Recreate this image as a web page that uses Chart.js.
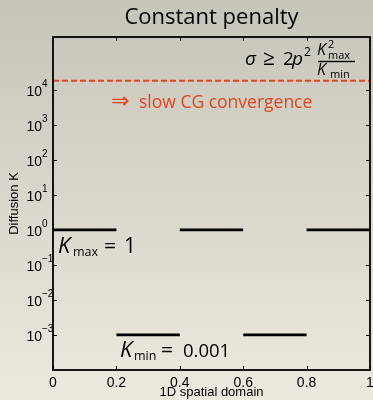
<!DOCTYPE html>
<html>
<head>
<meta charset="utf-8">
<script src="https://cdn.jsdelivr.net/npm/chart.js@4.4.1/dist/chart.umd.min.js"></script>
<style>
html, body { margin: 0; padding: 0; background: #dcd9ce; }
canvas { display: block; }
</style>
</head>
<body>
<canvas id="penaltyChart" width="373" height="400"></canvas>
<script>
// piecewise constant diffusion K over the 1D domain
const segStart = [0, 0.2, 0.4, 0.6, 0.8];
const segEnd = [0.2, 0.4, 0.6, 0.8, 1];
const diffusionK = [1, 0.001, 1, 0.001, 1];
// penalty bound sigma >= 2 p^2 Kmax^2 / Kmin (dashed line)
const penaltyBound = 18000;
const xTickValues = [0, 0.2, 0.4, 0.6, 0.8, 1];
const yTickExponents = [-3, -2, -1, 0, 1, 2, 3, 4];
const yMin = 1e-4;
const yMax = Math.pow(10, 5.5);

const RED = '#df461f';
const SANS = '"Open Sans", "DejaVu Sans", sans-serif';
const AX = '"Liberation Sans", Arial, sans-serif';

// build step segments, broken by null so they are not joined
const stepPoints = [];
for (let i = 0; i < diffusionK.length; i++) {
    stepPoints.push({ x: segStart[i], y: diffusionK[i] });
    stepPoints.push({ x: segEnd[i], y: diffusionK[i] });
    stepPoints.push({ x: segEnd[i], y: null });
}
const boundPoints = [{ x: 0, y: penaltyBound }, { x: 1, y: penaltyBound }];

function drawPieces(ctx, pieces) {
    pieces.forEach(p => {
        ctx.font = (p.it ? 'italic ' : '') + p.size + 'px ' + (p.family || SANS);
        ctx.fillText(p.t, p.x, p.y);
    });
}

const paperPlugin = {
    id: 'paper',
    beforeDraw(chart) {
        const { ctx, width, height } = chart;
        const g = ctx.createLinearGradient(0, 0, 0, height);
        g.addColorStop(0, '#c7c4b9');
        g.addColorStop(1, '#ede9de');
        ctx.save();
        ctx.fillStyle = g;
        ctx.fillRect(0, 0, width, height);
        ctx.restore();
    },
    afterDraw(chart) {
        const { ctx, chartArea: a } = chart;
        const x = chart.scales.x, y = chart.scales.y;
        ctx.save();
        ctx.strokeStyle = '#000';
        ctx.lineWidth = 1.8;
        ctx.strokeRect(a.left, a.top, a.right - a.left, a.bottom - a.top);

        // inward tick marks on all four sides
        ctx.lineWidth = 1;
        ctx.beginPath();
        xTickValues.forEach(v => {
            const px = Math.round(x.getPixelForValue(v)) + 0.5;
            ctx.moveTo(px, a.bottom); ctx.lineTo(px, a.bottom - 4);
            ctx.moveTo(px, a.top); ctx.lineTo(px, a.top + 4);
        });
        yTickExponents.forEach(e => {
            const py = Math.round(y.getPixelForValue(Math.pow(10, e))) + 0.5;
            ctx.moveTo(a.left, py); ctx.lineTo(a.left + 4, py);
            ctx.moveTo(a.right, py); ctx.lineTo(a.right - 4, py);
        });
        ctx.stroke();

        // y tick labels as 10^e
        ctx.fillStyle = '#000';
        yTickExponents.forEach(e => {
            const py = y.getPixelForValue(Math.pow(10, e));
            ctx.font = '14px ' + AX;
            ctx.textAlign = 'right';
            ctx.textBaseline = 'alphabetic';
            ctx.fillText('10', 42, py + 6);
            ctx.font = '10px ' + AX;
            ctx.textAlign = 'left';
            ctx.fillText(String(e).replace('-', '\u2212'), 42, py - 3);
        });

        // title
        ctx.textAlign = 'center';
        ctx.font = '22px ' + SANS;
        ctx.fillText('Constant penalty', (a.left + a.right) / 2, 24);

        // annotations
        ctx.textAlign = 'left';
        drawPieces(ctx, [
            { t: '\u03c3', x: 245, y: 65, size: 19, it: true },
            { t: '\u2265', x: 263, y: 65, size: 21 },
            { t: '2', x: 283, y: 65, size: 19 },
            { t: 'p', x: 292, y: 65, size: 19, it: true },
            { t: '2', x: 304, y: 56, size: 12 },
            { t: 'K', x: 317, y: 55, size: 16, it: true },
            { t: '2', x: 328, y: 48, size: 11 },
            { t: 'max', x: 328, y: 59, size: 11 },
            { t: 'K', x: 317, y: 75, size: 16, it: true },
            { t: 'min', x: 330, y: 78, size: 11 },
            { t: 'K', x: 58, y: 253, size: 22, it: true },
            { t: 'max', x: 73, y: 256, size: 12.5 },
            { t: '=', x: 104, y: 253, size: 21 },
            { t: '1', x: 124, y: 253, size: 21 },
            { t: 'K', x: 120, y: 357, size: 22, it: true },
            { t: 'min', x: 134, y: 360, size: 12.5 },
            { t: '=', x: 161, y: 357, size: 21 },
            { t: '0.001', x: 183, y: 357, size: 18.5 }
        ]);
        ctx.fillRect(318, 60.8, 37, 1.4);

        ctx.fillStyle = RED;
        drawPieces(ctx, [
            { t: '\u21d2', x: 111, y: 108, size: 22, family: '"DejaVu Sans", sans-serif' },
            { t: 'slow CG convergence', x: 139, y: 108, size: 17.5 }
        ]);
        ctx.restore();
    }
};

const ctx = document.getElementById('penaltyChart').getContext('2d');
const penaltyChart = new Chart(ctx, {
    type: 'line',
    data: {
        datasets: [{
            data: boundPoints,
            borderColor: RED,
            borderWidth: 2,
            borderDash: [6, 3],
            pointRadius: 0
        }, {
            data: stepPoints,
            borderColor: '#000',
            borderWidth: 2.8,
            pointRadius: 0,
            spanGaps: false
        }]
    },
    options: {
        responsive: false,
        animation: false,
        layout: { padding: { top: 37, right: 3, left: 0, bottom: 0 } },
        plugins: {
            legend: { display: false },
            tooltip: { enabled: false }
        },
        scales: {
            x: {
                type: 'linear',
                min: 0,
                max: 1,
                afterBuildTicks: s => { s.ticks = xTickValues.map(v => ({ value: v })); },
                afterFit: s => { s.height = 30; s.paddingLeft = 0; s.paddingRight = 0; },
                grid: { display: false, drawTicks: false },
                border: { display: false },
                ticks: {
                    color: '#000',
                    padding: 5,
                    maxRotation: 0,
                    font: { family: AX, size: 14 },
                    callback: v => String(+v.toFixed(1))
                },
                title: {
                    display: true,
                    text: '1D spatial domain',
                    color: '#000',
                    font: { family: AX, size: 13 },
                    padding: { top: 0, bottom: 0 }
                }
            },
            y: {
                type: 'logarithmic',
                min: yMin,
                max: yMax,
                afterBuildTicks: s => { s.ticks = yTickExponents.map(e => ({ value: Math.pow(10, e) })); },
                afterFit: s => { s.width = 53; s.paddingTop = 0; s.paddingBottom = 0; },
                grid: { display: false, drawTicks: false },
                border: { display: false },
                ticks: { display: false },
                title: {
                    display: true,
                    text: 'Diffusion K',
                    color: '#000',
                    font: { family: AX, size: 13 },
                    padding: { top: 7, bottom: 0 }
                }
            }
        }
    },
    plugins: [paperPlugin]
});
</script>
</body>
</html>
